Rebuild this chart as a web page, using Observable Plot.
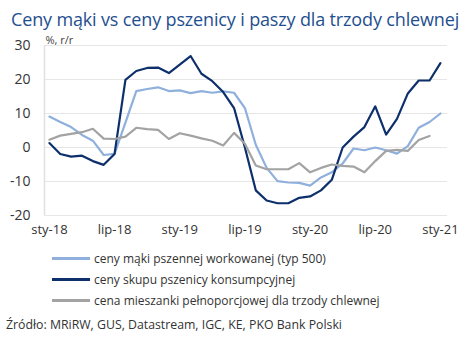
<!DOCTYPE html>
<html><head><meta charset="utf-8">
<script src="https://cdn.jsdelivr.net/npm/d3@7"></script>
<script src="https://cdn.jsdelivr.net/npm/@observablehq/plot@0.6"></script>
<style>
body{margin:0;background:#fff;font-family:"Open Sans",sans-serif;}
#wrap{position:relative;width:474px;height:345px;overflow:hidden;}
#title{position:absolute;left:11px;top:7px;font-size:18px;color:#1f4f8f;white-space:nowrap;letter-spacing:-0.15px;}
#chart{position:absolute;left:0;top:30px;}
#legend{position:absolute;left:52px;top:248px;font-size:12px;color:#333;}
.row{height:21px;display:flex;align-items:center;white-space:nowrap;}
.sw{width:38px;height:3px;margin-right:4px;}
#source{position:absolute;left:6px;top:316px;font-size:12.3px;color:#333;white-space:nowrap;}
</style></head>
<body><div id="wrap">
<div id="title">Ceny mąki vs ceny pszenicy i paszy dla trzody chlewnej</div>
<div id="chart"></div>
<div id="legend"></div>
<div id="source">Źródło: MRiRW, GUS, Datastream, IGC, KE, PKO Bank Polski</div>
</div>
<script>
// months from Jan 2018 (index 0) to Jan 2021 (index 36)
const tickLabels = ["sty-18","lip-18","sty-19","lip-19","sty-20","lip-20","sty-21"];
const tickIdx = [0,6,12,18,24,30,36];
const seriesNames = [
  "ceny mąki pszennej workowanej (typ 500)",
  "ceny skupu pszenicy konsumpcyjnej",
  "cena mieszanki pełnoporcjowej dla trzody chlewnej"
];
const colors = ["#8fb0dc","#0d2f6b","#a3a3a3"];
const flour = [9.1,7.5,6.0,3.7,2.0,-2.2,-1.9,7.3,16.6,17.2,17.7,16.6,16.8,16.0,16.6,16.1,16.5,16.1,11.6,0.8,-6.0,-9.9,-10.3,-10.4,-11.2,-8.8,-7.3,-4.7,-0.3,-0.8,0.0,-0.8,-1.8,0.4,5.8,7.5,10.0];
const wheat = [1.3,-1.9,-2.7,-2.4,-4.0,-5.1,-1.9,19.9,22.5,23.4,23.5,21.9,24.4,26.9,21.7,19.5,16.3,11.6,0.0,-12.6,-15.6,-16.4,-16.4,-14.8,-14.4,-12.6,-9.5,0.0,3.2,6.0,12.1,3.8,8.4,15.9,19.7,19.7,24.8];
const feed = [2.3,3.5,4.0,4.5,5.5,2.6,2.5,3.2,5.8,5.4,5.2,2.5,4.2,3.5,2.7,2.0,0.6,4.3,1.1,-5.3,-6.4,-6.4,-6.4,-4.6,-7.3,-6.0,-5.0,-5.4,-5.6,-7.3,-4.0,-1.0,-0.7,-1.0,2.2,3.4];
const yTicks = [-20,-10,0,10,20,30];
const yLabel = "%, r/r";

const rows = [];
[flour, wheat, feed].forEach((arr, s) => arr.forEach((v, i) => rows.push({s: seriesNames[s], i, v})));

const chart = Plot.plot({
  width: 474, height: 215,
  marginLeft: 44, marginRight: 27, marginTop: 15, marginBottom: 30,
  style: {fontFamily: "'Open Sans',sans-serif", color: "#333", background: "#fff"},
  x: {domain: [-0.45, 36.65]},
  y: {domain: [-20, 30]},
  color: {domain: seriesNames, range: colors},
  marks: [
    Plot.gridY(yTicks, {stroke: "#e6e6e6", strokeOpacity: 1, strokeWidth: 1}),
    Plot.ruleX([-0.45], {stroke: "#e0e0e0", strokeWidth: 1.5}),
    Plot.axisY({ticks: yTicks, tickFormat: (d) => String(d), tickSize: 0, tickPadding: 14, fontSize: 14, label: null}),
    Plot.axisX({ticks: tickIdx, tickFormat: (d) => tickLabels[tickIdx.indexOf(d)], tickSize: 0, tickPadding: 9, fontSize: 13, label: null}),
    Plot.line(rows, {x: "i", y: "v", z: "s", stroke: "s", strokeWidth: 2.2}),
    Plot.text([yLabel], {frameAnchor: "top-left", dx: 1, dy: -9, fontSize: 11, fill: "#444", textAnchor: "start"})
  ]
});
document.getElementById("chart").appendChild(chart);

const leg = document.getElementById("legend");
seriesNames.forEach((n, k) => {
  const r = document.createElement("div"); r.className = "row";
  const sw = document.createElement("div"); sw.className = "sw"; sw.style.background = colors[k];
  const t = document.createElement("span"); t.textContent = n;
  r.appendChild(sw); r.appendChild(t); leg.appendChild(r);
});
</script></body></html>
